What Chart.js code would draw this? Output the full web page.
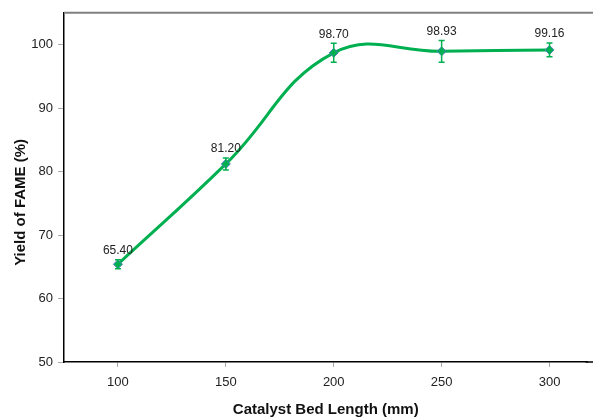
<!DOCTYPE html>
<html lang="en">
  <head>
    <meta charset="UTF-8" />
    <title>Yield of FAME vs Catalyst Bed Length</title>
    <script src="https://cdn.jsdelivr.net/npm/chart.js"></script>
    <style>
      html,
      body {
        margin: 0;
        padding: 0;
        background: #fff;
      }
      .chart-container {
        width: 593px;
        height: 419px;
      }
    </style>
  </head>

  <body>
    <div class="chart-container">
      <canvas id="fame-chart"></canvas>
    </div>

    <script>
      // bed length (mm), yield (%) and the +/- error on each point
      const bedLengths = [100, 150, 200, 250, 300];
      const yields = [65.4, 81.2, 98.7, 98.93, 99.16];
      const yieldErrors = [0.7, 0.95, 1.5, 1.7, 1.1];
      const xTicks = [100, 150, 200, 250, 300];
      const yTicks = [50, 60, 70, 80, 90, 100];
      const yTitle = "Yield of FAME (%)";

      const green = "#00b050";
      const fontFamily = "'Liberation Sans', Arial, sans-serif";

      // error bars, value labels, frame lines and the y title
      const extrasPlugin = {
        id: "extras",
        afterDatasetsDraw(chart) {
          const ctx = chart.ctx;
          const x = chart.scales.x;
          const y = chart.scales.y;
          const area = chart.chartArea;

          ctx.save();
          ctx.strokeStyle = "#808080";
          ctx.lineWidth = 2;
          ctx.beginPath();
          ctx.moveTo(area.left, area.top);
          ctx.lineTo(chart.width, area.top);
          ctx.stroke();

          // run the bottom axis line out to the edge
          ctx.strokeStyle = "#000";
          ctx.lineWidth = 1.5;
          ctx.beginPath();
          ctx.moveTo(area.right - 2, area.bottom);
          ctx.lineTo(chart.width, area.bottom);
          ctx.stroke();

          ctx.strokeStyle = green;
          ctx.lineWidth = 1.5;
          bedLengths.forEach((len, i) => {
            const px = x.getPixelForValue(len);
            const top = y.getPixelForValue(yields[i] + yieldErrors[i]);
            const bot = y.getPixelForValue(yields[i] - yieldErrors[i]);
            ctx.beginPath();
            ctx.moveTo(px, top);
            ctx.lineTo(px, bot);
            ctx.moveTo(px - 3, top);
            ctx.lineTo(px + 3, top);
            ctx.moveTo(px - 3, bot);
            ctx.lineTo(px + 3, bot);
            ctx.stroke();
          });

          ctx.fillStyle = "#222";
          ctx.font = "12px " + fontFamily;
          ctx.textAlign = "center";
          ctx.textBaseline = "middle";
          bedLengths.forEach((len, i) => {
            const px = x.getPixelForValue(len);
            const top = y.getPixelForValue(yields[i] + yieldErrors[i]);
            ctx.fillText(yields[i].toFixed(2), px, top - 9);
          });

          // rotated y axis title, sitting a little below the plot centre
          ctx.fillStyle = "#111";
          ctx.font = "bold 15px " + fontFamily;
          ctx.translate(21, (area.top + area.bottom) / 2 + 15);
          ctx.rotate(-Math.PI / 2);
          ctx.fillText(yTitle, 0, 0);
          ctx.restore();
        },
      };

      new Chart(document.getElementById("fame-chart"), {
        type: "line",
        data: {
          datasets: [
            {
              data: bedLengths.map((len, i) => ({ x: len, y: yields[i] })),
              borderColor: green,
              borderWidth: 3,
              tension: 0.42,
              fill: false,
              pointStyle: "rectRot",
              pointRadius: 4.5,
              pointBackgroundColor: green,
              pointBorderColor: "#4a7ebb",
              pointBorderWidth: 1,
            },
          ],
        },
        options: {
          responsive: true,
          maintainAspectRatio: false,
          animation: false,
          layout: { padding: { top: 12, right: 0, left: 0, bottom: 0 } },
          plugins: {
            legend: { display: false },
            tooltip: { enabled: false },
          },
          scales: {
            x: {
              type: "linear",
              min: 75,
              max: 317.6,
              afterBuildTicks(scale) {
                scale.ticks = xTicks.map((v) => ({ value: v }));
              },
              afterFit(scale) {
                scale.height = 57;
              },
              grid: {
                drawOnChartArea: false,
                drawTicks: true,
                tickLength: 5,
                color: "#aaa",
              },
              border: { color: "#000", width: 1.5 },
              ticks: {
                color: "#222",
                font: { family: fontFamily, size: 13 },
                padding: 8,
                maxRotation: 0,
              },
              title: {
                display: true,
                text: "Catalyst Bed Length (mm)",
                color: "#111",
                font: { family: fontFamily, size: 15, weight: "bold" },
                padding: { top: 6, bottom: 0 },
              },
            },
            y: {
              min: 50,
              max: 105,
              afterBuildTicks(scale) {
                scale.ticks = yTicks.map((v) => ({ value: v }));
              },
              afterFit(scale) {
                scale.width = 64;
              },
              grid: {
                drawOnChartArea: false,
                drawTicks: true,
                tickLength: 6,
                color: "#aaa",
              },
              border: { color: "#000", width: 1.5 },
              ticks: {
                color: "#222",
                font: { family: fontFamily, size: 13 },
                padding: 5,
              },
            },
          },
        },
        plugins: [extrasPlugin],
      });
    </script>
  </body>
</html>
